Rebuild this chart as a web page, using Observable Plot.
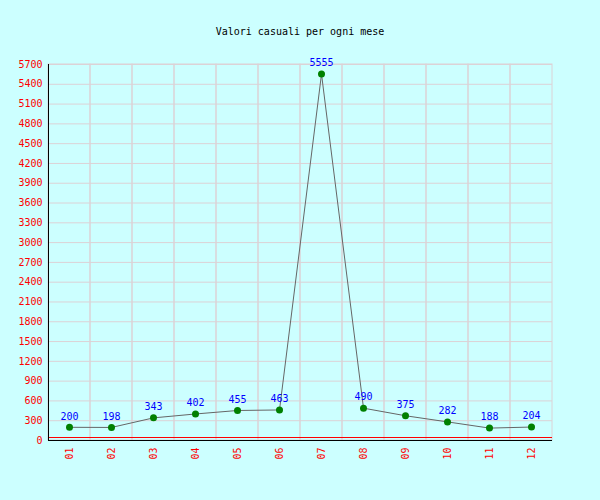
<!DOCTYPE html>
<html>
<head>
<meta charset="utf-8">
<script src="https://cdn.jsdelivr.net/npm/d3@7"></script>
<script src="https://cdn.jsdelivr.net/npm/@observablehq/plot@0.6"></script>
<style>
  html, body { margin: 0; padding: 0; background: #ccffff; }
  #wrap { position: relative; width: 600px; height: 500px; background: #ccffff; }
  #title { position: absolute; top: 26px; left: 0; width: 600px; text-align: center;
           font: 10px "DejaVu Sans Mono", monospace; color: #000; }
  svg { display: block; }
</style>
</head>
<body>
<div id="wrap">
  <div id="title">Valori casuali per ogni mese</div>
  <div id="chart"></div>
</div>
<script>
const months = ["01","02","03","04","05","06","07","08","09","10","11","12"];
const values = [200, 198, 343, 402, 455, 463, 5555, 490, 375, 282, 188, 204];
const yTicks = d3.range(0, 5701, 300);

const data = months.map((m, i) => ({month: m, value: values[i]}));
const gridColor = "#dcd2d6";

const W = 600, H = 500, mL = 48, mR = 48, mT = 64, mB = 60;
const step = (W - mL - mR) / months.length;

const chart = Plot.plot({
  width: W,
  height: H,
  marginLeft: mL,
  marginRight: mR,
  marginTop: mT,
  marginBottom: mB,
  style: {background: "transparent", fontFamily: "'DejaVu Sans Mono', monospace", fontSize: "10px"},
  x: {type: "band", domain: months, padding: 0, label: null},
  y: {domain: [0, 5700], label: null},
  marks: [
    Plot.ruleY(yTicks, {stroke: gridColor}),
    Plot.cell(months, {x: d => d, stroke: gridColor, fill: "none", inset: 0}),
    Plot.axisY({ticks: yTicks, tickFormat: d => String(d), tickSize: 0, tickPadding: 6, color: "#ff0000", fill: "#ff0000", label: null, fontSize: 10}),
    Plot.axisX({tickSize: 0, tickPadding: 7, tickRotate: -90, fill: "#ff0000", color: "#ff0000", label: null, fontSize: 10}),
    Plot.ruleY([0], {stroke: "#ff0000", strokeWidth: 1, dy: -3}),
    Plot.ruleY([0], {stroke: "#000000", strokeWidth: 1}),
    Plot.ruleX([months[0]], {stroke: "#000000", strokeWidth: 1, dx: -step / 2}),
    Plot.line(data, {x: "month", y: "value", stroke: "#666666", strokeWidth: 1}),
    Plot.dot(data, {x: "month", y: "value", r: 3.5, fill: "#008000", stroke: "none"}),
    Plot.text(data, {x: "month", y: "value", text: d => String(d.value), fill: "#0000ff", dy: -11, fontSize: 10})
  ]
});
document.getElementById("chart").appendChild(chart);
</script>
</body>
</html>
